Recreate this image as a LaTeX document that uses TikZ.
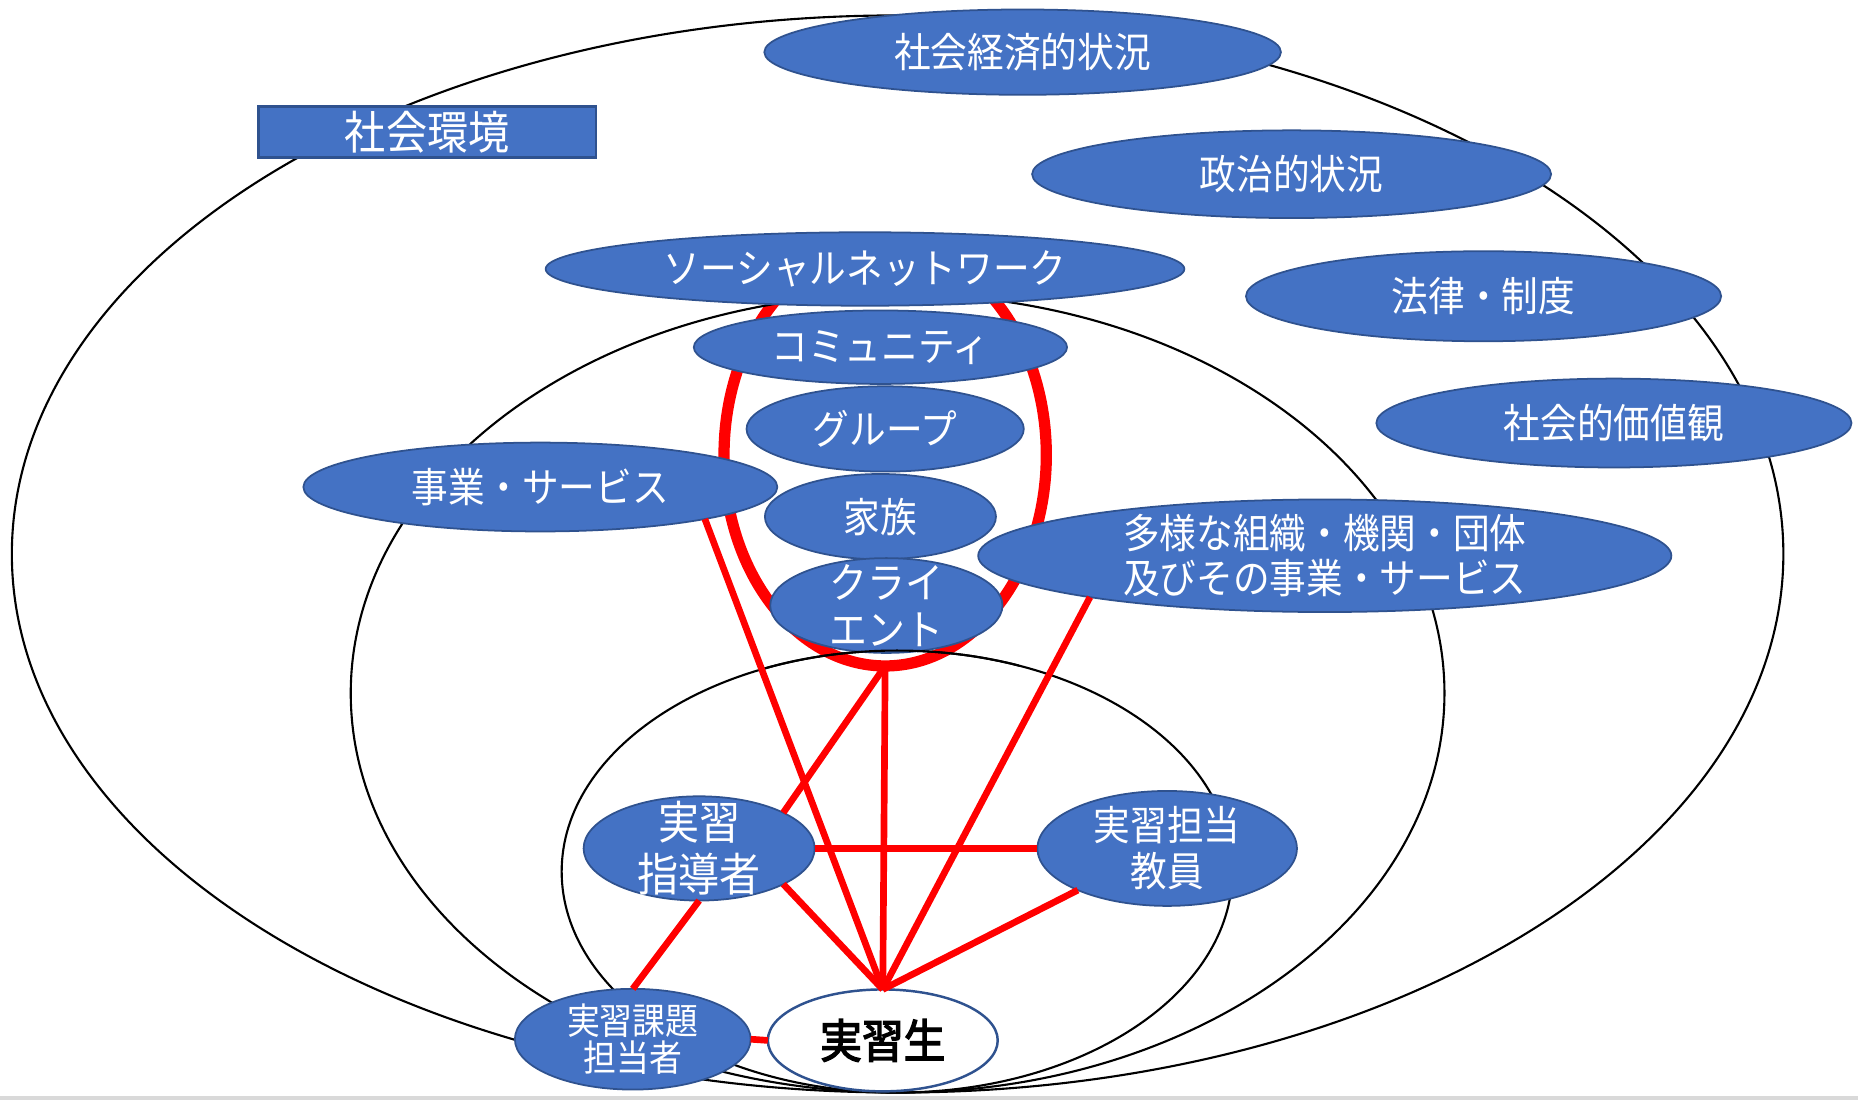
\documentclass[tikz,border=0pt]{standalone}
\usepackage{fontspec}
\newfontfamily\jpn[FakeStretch=0.9]{Noto Sans CJK JP}
\newfontfamily\jpnbold[FakeStretch=0.9,FakeBold=3]{Noto Sans CJK JP}
\usetikzlibrary{shapes.geometric}
\definecolor{nblue}{RGB}{68,114,196}
\definecolor{nborder}{RGB}{47,82,143}
\definecolor{lred}{RGB}{255,0,0}
\def\U{0.01185cm}
\begin{document}
\begin{tikzpicture}[x=\U, y=\U,
  blk/.style={draw=black, line width=0.6pt},
  bnode/.style={ellipse, fill=nblue, draw=nborder, line width=0.5pt, inner sep=0pt, outer sep=0pt},
  txt/.style={text=white, align=center, inner sep=0pt, font=\jpn\fontsize{11.6}{13.5}\selectfont},
  txtL/.style={txt, font=\jpn\fontsize{13}{14.8}\selectfont},
  txtC/.style={txt, font=\jpn\fontsize{12}{13.5}\selectfont},
  txtS/.style={txt, font=\jpn\fontsize{10.4}{10.6}\selectfont},
  rline/.style={draw=lred, line width=1.9pt},
  rring/.style={ellipse, draw=lred, line width=3.2pt, inner sep=0pt, outer sep=0pt}
]
\useasboundingbox (0,0) rectangle (1568,-928);
\fill[gray!30] (0,-925) rectangle (1568,-928);

% red ring around client system
\node[rring, minimum width=272*\U, minimum height=356*\U] (ring) at (747,-384) {};

% black environment ellipses (tangent at the bottom)
\draw[blk] (757.5,-467.5) ellipse [x radius=747.5, y radius=454.5];
\draw[blk] (757.5,-585) ellipse [x radius=461.5, y radius=337];
\draw[blk] (757,-735.5) ellipse [x radius=283, y radius=186.5];

% nodes
\node[bnode, minimum width=436*\U, minimum height=72*\U, label={[txt]center:{社会経済的状況}}] (sk) at (863,-44) {};
\node[rectangle, fill=nblue, draw=nborder, line width=0.7pt, inner sep=0pt, minimum width=285*\U, minimum height=43*\U, label={[txtL]center:{社会環境}}] (env) at (360.5,-111.5) {};
\node[bnode, minimum width=438*\U, minimum height=74*\U, label={[txt]center:{政治的状況}}] (sj) at (1090,-147) {};
\node[bnode, minimum width=539*\U, minimum height=62*\U, label={[txt]center:{ソーシャルネットワーク}}] (sn) at (730,-227) {};
\node[bnode, minimum width=401*\U, minimum height=76*\U, label={[txt]center:{法律・制度}}] (ho) at (1252,-250) {};
\node[bnode, minimum width=315*\U, minimum height=62*\U, label={[txt]center:{コミュニティ}}] (com) at (743,-293) {};
\node[bnode, minimum width=401*\U, minimum height=75*\U, label={[txt]center:{社会的価値観}}] (kach) at (1362,-357) {};
\node[bnode, minimum width=234*\U, minimum height=72*\U, label={[txt]center:{グループ}}] (grp) at (747,-362) {};
\node[bnode, minimum width=400*\U, minimum height=75*\U, label={[txt]center:{事業・サービス}}] (jig) at (456,-411) {};
\node[bnode, minimum width=195*\U, minimum height=72*\U, label={[txt]center:{家族}}] (kaz) at (743,-436) {};
\node[bnode, minimum width=196*\U, minimum height=80*\U, label={[txtC]center:{クライ\\エント}}] (cl) at (748,-511) {};
\node[bnode, minimum width=585*\U, minimum height=95*\U, label={[txt, font=\jpn\fontsize{11.6}{12.8}\selectfont]center:{多様な組織・機関・団体\\及びその事業・サービス}}] (tayo) at (1118,-469) {};

% inner ellipse passes over the client node
\begin{scope}
  \clip (640,-530) rectangle (860,-565);
  \draw[blk] (757,-735.5) ellipse [x radius=283, y radius=186.5];
\end{scope}

\node[bnode, minimum width=195*\U, minimum height=88*\U, label={[txtL]center:{実習\\指導者}}] (sd) at (590,-716) {};
\node[bnode, minimum width=219*\U, minimum height=97*\U, label={[txt, font=\jpn\fontsize{11.6}{13.1}\selectfont]center:{実習担当\\教員}}] (ky) at (985,-716) {};
\node[bnode, minimum width=199*\U, minimum height=85*\U, label={[txtS]center:{実習課題\\担当者}}] (kd) at (534,-877) {};
\node[ellipse, fill=white, draw=nborder, line width=0.7pt, inner sep=0pt, outer sep=0pt, minimum width=194*\U, minimum height=86*\U, label={[inner sep=0pt, text=black, font=\jpnbold\fontsize{13.2}{14}\selectfont]center:{実習生}}] (js) at (745,-878) {};

% red connectors
\draw[rline] (jig.-11) -- (js.north);
\draw[rline] (ring.south) -- (js.north);
\draw[rline] (ring.south) -- (sd.23);
\draw[rline] (tayo.-170) -- (js.north);
\draw[rline] (sd.east) -- (ky.west);
\draw[rline] (sd.-23) -- (js.north);
\draw[rline] (ky.205) -- (js.north);
\draw[rline] (sd.south) -- (kd.north);
\draw[rline] (kd.east) -- (js.west);
\end{tikzpicture}
\end{document}
